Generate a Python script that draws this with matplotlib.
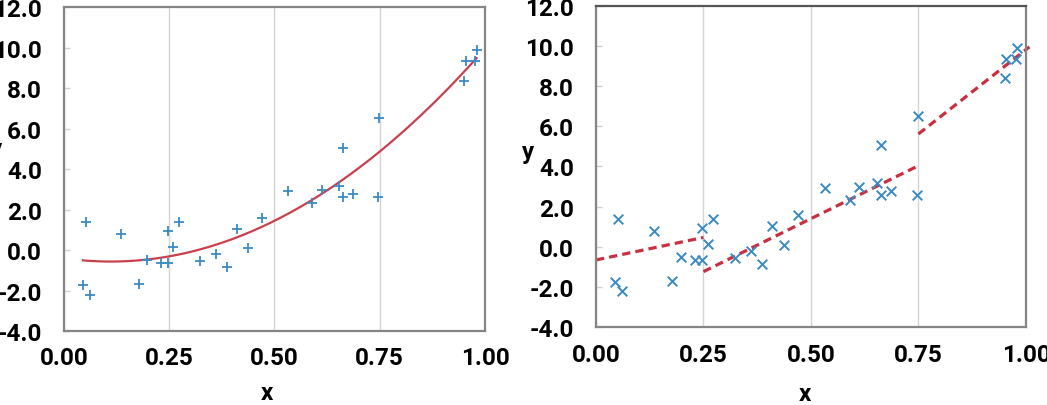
import matplotlib
matplotlib.use("Agg")
import matplotlib.pyplot as plt
import numpy as np

# ---- data ----
x_vals = [0.045, 0.0515, 0.061, 0.136, 0.178, 0.198, 0.231, 0.247, 0.246, 0.260,
          0.273, 0.324, 0.361, 0.387, 0.410, 0.437, 0.471, 0.532, 0.590, 0.612,
          0.654, 0.663, 0.663, 0.687, 0.746, 0.749, 0.951, 0.954, 0.976, 0.980]
y_vals = [-1.74, 1.38, -2.20, 0.81, -1.70, -0.51, -0.64, -0.64, 0.94, 0.13,
          1.38, -0.56, -0.21, -0.86, 1.05, 0.10, 1.58, 2.93, 2.34, 2.98,
          3.16, 5.05, 2.60, 2.78, 2.60, 6.53, 8.38, 9.35, 9.35, 9.89]
# piecewise fit segments (right panel): start/end x and fitted y at those ends
seg_x0 = [0.00, 0.25, 0.75]
seg_x1 = [0.25, 0.75, 1.008]
seg_y0 = [-0.65, -1.23, 5.62]
seg_y1 = [0.47, 4.04, 9.95]
x_ticks = [0.00, 0.25, 0.50, 0.75, 1.00]
y_ticks = [-4.0, -2.0, 0.0, 2.0, 4.0, 6.0, 8.0, 10.0, 12.0]

plt.rcParams['font.family'] = ['Roboto', 'DejaVu Sans']

x = np.array(x_vals)
y = np.array(y_vals)

fig = plt.figure(figsize=(10.47, 4.06), dpi=100)
ax1 = fig.add_axes([0.0611, 0.1823, 0.4021, 0.7973])
ax2 = fig.add_axes([0.5692, 0.1914, 0.4107, 0.7921])

blue = "#3a8ac6"
red_solid = "#c9404c"
red_dash = "#c8303f"

def style(ax, ylab_xy, xlab_xy):
    ax.set_xlim(0, 1)
    ax.set_ylim(-4, 12)
    ax.set_xticks(x_ticks)
    ax.set_yticks(y_ticks)
    ax.set_xticklabels([f"{v:.2f}" for v in x_ticks])
    ax.set_yticklabels([f"{v:.1f}" for v in y_ticks])
    ax.grid(axis='x', color="#d4d4d4", linewidth=1.0)
    ax.set_axisbelow(True)
    for s in ax.spines.values():
        s.set_color("#858585")
        s.set_linewidth(1.6)
    ax.tick_params(axis='y', direction='in', length=4.5, color="#d0d0d0", width=1,
                   labelsize=17.5, pad=16)
    ax.tick_params(axis='x', length=0, labelsize=17.5, pad=11)
    for lab in ax.get_xticklabels() + ax.get_yticklabels():
        lab.set_fontweight('bold')
    ax.set_xlabel("x", fontsize=17.5, fontweight='bold', va='center')
    ax.set_ylabel("y", fontsize=17.5, fontweight='bold', rotation=0, va='center', ha='center')
    ax.yaxis.set_label_coords(*ylab_xy)
    ax.xaxis.set_label_coords(*xlab_xy)

# left: scatter + quadratic least-squares fit
style(ax1, (-0.162, 0.563), (0.482, -0.19))
ax1.scatter(x, y, marker='+', s=62, color=blue, linewidths=1.3, zorder=3)
c = np.polyfit(x, y, 2)
xx = np.linspace(x.min(), x.max(), 200)
ax1.plot(xx, np.polyval(c, xx), color=red_solid, linewidth=1.6, zorder=2)

# right: scatter + piecewise fit
style(ax2, (-0.158, 0.548), (0.486, -0.205))
ax2.spines['top'].set_color("#555555")
ax2.scatter(x, y, marker='x', s=48, color=blue, linewidths=1.4, zorder=3)
for a0, a1, b0, b1 in zip(seg_x0, seg_x1, seg_y0, seg_y1):
    ax2.plot([a0, a1], [b0, b1], color=red_dash, linewidth=2.3,
             linestyle=(0, (2.6, 1.6)), zorder=2, clip_on=False)

fig.savefig("out.png", dpi=100)
